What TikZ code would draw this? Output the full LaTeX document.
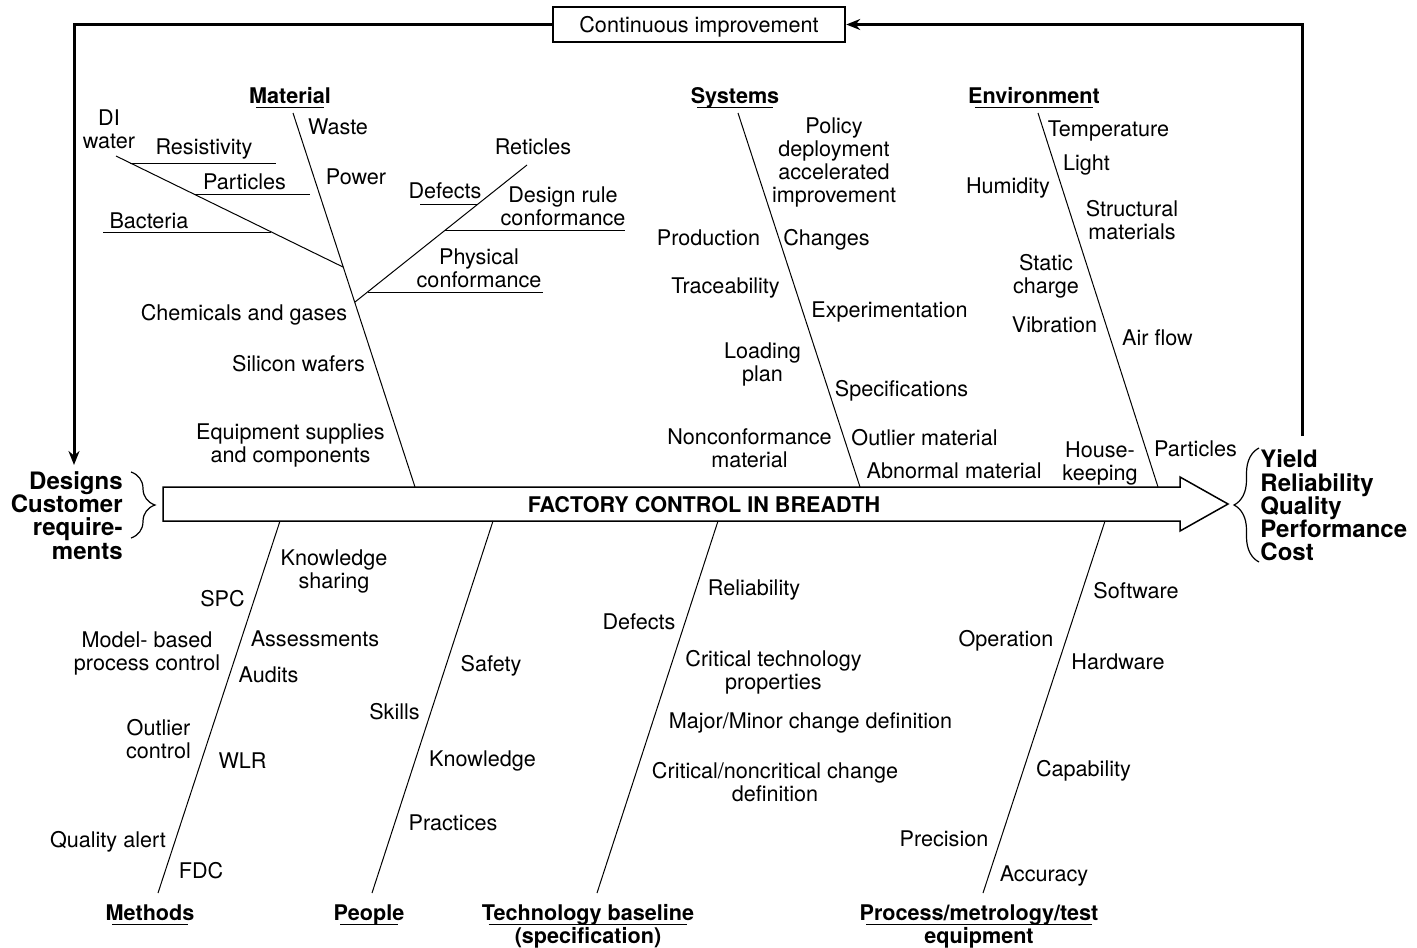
\documentclass[tikz,border=0pt]{standalone}
\usepackage{fontspec}
\setmainfont{TeX Gyre Heros}
\usetikzlibrary{arrows.meta,decorations.pathreplacing}
\begin{document}
\begin{tikzpicture}[x=0.5pt,y=-0.5pt,
  txt/.style={font=\fontsize{10.8}{11.5}\selectfont,inner sep=0pt,text height=7.8pt,text depth=0pt},
  mtxt/.style={font=\fontsize{10.8}{11.5}\selectfont,inner sep=0pt,align=center},
  head/.style={font=\bfseries\fontsize{10.8}{11.5}\selectfont,inner sep=0pt,text height=7.8pt,text depth=0pt},
  big/.style={font=\bfseries\fontsize{12}{11.6}\selectfont,inner sep=0pt},
  bone/.style={line width=0.5pt},
  twig/.style={line width=0.5pt},
  loopline/.style={line width=1.5pt,-{Stealth[length=7pt,width=5.5pt]}},
  uline/.style={line width=0.7pt},
]
\useasboundingbox (0,0) rectangle (1417,947);

% ---------- spine arrow ----------
\draw[line width=0.75pt] (163,487) -- (1180,487) -- (1180,477) -- (1228,504)
  -- (1180,531) -- (1180,521) -- (163,521) -- cycle;
\node[head] (spine) at (704,505) {FACTORY CONTROL IN BREADTH};

% ---------- inputs and outputs ----------
\node[big,align=right,anchor=east] (inp) at (123,515.5) {Designs\\Customer\\require-\\ments};
\node[big,align=left,anchor=west] (outp) at (1260,505.5) {Yield\\Reliability\\Quality\\Performance\\Cost};
\draw[line width=0.6pt,decorate,decoration={brace,amplitude=12pt}] (131,472) -- (131,538);
\draw[line width=0.6pt,decorate,decoration={brace,amplitude=12.5pt}] (1259,562) -- (1259,448);

% ---------- feedback loop ----------
\node[draw,line width=1.2pt,minimum width=146pt,minimum height=17.5pt,txt] (ci) at (699,24.5) {Continuous improvement};
\coordinate (fbin) at (74,465);
\coordinate (fbout) at (1302,436);
\draw[loopline] (ci.west) -| (fbin);
\draw[loopline] (fbout) |- (ci.east);

% ---------- category headings ----------
\node[head] (mat)  at (290,96)  {Material};
\node[head] (sys)  at (735,96)  {Systems};
\node[head] (env)  at (1034,96) {Environment};
\node[head] (meth) at (150,913) {Methods};
\node[head] (ppl)  at (369,913) {People};
\node[head] (tech) at (588,913) {Technology baseline};
\node[head] (tech2) at (588,936) {(specification)};
\node[head] (proc) at (979,913) {Process/metrology/test};
\node[head] (proc2) at (979,936) {equipment};
\foreach \h in {mat,sys,env,meth,ppl,tech,proc}
  \draw[uline] ([xshift=3.5pt,yshift=-1.8pt]\h.base west) -- ([xshift=-3.5pt,yshift=-1.8pt]\h.base east);

% ---------- main bones ----------
\coordinate (matT) at (293,113);  \coordinate (matB) at (415,487);
\coordinate (sysT) at (738,113);  \coordinate (sysB) at (860,487);
\coordinate (envT) at (1038,113); \coordinate (envB) at (1158,487);
\coordinate (methT) at (280,521); \coordinate (methB) at (158,893);
\coordinate (pplT) at (493,521);  \coordinate (pplB) at (372,893);
\coordinate (techT) at (718,521); \coordinate (techB) at (597,893);
\coordinate (procT) at (1105,521);\coordinate (procB) at (983,893);
\foreach \b in {mat,sys,env,meth,ppl,tech,proc}
  \draw[bone] (\b T) -- (\b B);

% ---------- material sub-branches ----------
\coordinate (diA) at (116,156);  \coordinate (diB) at (343,267);
\draw[twig] (diA) -- (diB);
\coordinate (resA) at (130,163); \coordinate (resB) at (276,163);
\coordinate (parA) at (193.5,194); \coordinate (parB) at (310,194);
\coordinate (bacA) at (103,232); \coordinate (bacB) at (271,232);
\draw[twig] (resA) -- (resB);
\draw[twig] (parA) -- (parB);
\draw[twig] (bacA) -- (bacB);
\coordinate (retA) at (355,302); \coordinate (retB) at (527,165);
\draw[twig] (retA) -- (retB);
\coordinate (dfA) at (420,204); \coordinate (dfB) at (478,204);
\coordinate (drA) at (445,230); \coordinate (drB) at (625,230);
\coordinate (phA) at (368,292); \coordinate (phB) at (543,292);
\draw[twig] (dfA) -- (dfB);
\draw[twig] (drA) -- (drB);
\draw[twig] (phA) -- (phB);

% ---------- material labels ----------
\node[mtxt] (di) at (109,129.5) {DI\\water};
\node[txt] (res) at (204,147) {Resistivity};
\node[txt] (par1) at (244.5,182) {Particles};
\node[txt] (bac) at (149,221) {Bacteria};
\node[txt] (waste) at (338,127) {Waste};
\node[txt] (power) at (356,177) {Power};
\node[txt] (ret) at (533,147) {Reticles};
\node[txt] (def1) at (445,191) {Defects};
\node[mtxt] (drc) at (563,206.5) {Design rule\\conformance};
\node[mtxt] (phys) at (479,268.5) {Physical\\conformance};
\node[txt] (chem) at (244,313) {Chemicals and gases};
\node[txt] (si) at (298.5,364) {Silicon wafers};
\node[mtxt] (equip) at (290.5,445) {Equipment supplies\\and components};

% ---------- systems labels ----------
\node[mtxt] (policy) at (834,162) {Policy\\deployment\\accelerated\\improvement};
\node[txt] (prod) at (708.5,238) {Production};
\node[txt] (chg) at (826.5,238) {Changes};
\node[txt] (trace) at (725.5,286) {Traceability};
\node[txt] (exper) at (889.5,310) {Experimentation};
\node[mtxt] (load) at (762.5,364) {Loading\\plan};
\node[txt] (spec) at (901.5,389) {Specifications};
\node[mtxt] (nonc) at (749.5,448.5) {Nonconformance\\material};
\node[txt] (outl) at (924.5,438) {Outlier material};
\node[txt] (abn) at (954,471) {Abnormal material};

% ---------- environment labels ----------
\node[txt] (temp) at (1108.5,129) {Temperature};
\node[txt] (light) at (1086.5,163) {Light};
\node[txt] (hum) at (1008,186) {Humidity};
\node[mtxt] (struct) at (1132,220.5) {Structural\\materials};
\node[mtxt] (stat) at (1046,276) {Static\\charge};
\node[txt] (vib) at (1054.5,325) {Vibration};
\node[txt] (air) at (1157.5,338) {Air flow};
\node[mtxt] (house) at (1100,463) {House-\\keeping};
\node[txt] (par2) at (1195.5,449) {Particles};

% ---------- methods labels ----------
\node[mtxt] (ks) at (334,571) {Knowledge\\sharing};
\node[txt] (spc) at (222.5,599) {SPC};
\node[mtxt] (mbpc) at (147,653) {Model- based\\process control};
\node[txt] (assess) at (315,639) {Assessments};
\node[txt] (audits) at (268.5,675) {Audits};
\node[mtxt] (outc) at (158.5,739.5) {Outlier\\control};
\node[txt] (wlr) at (242.5,761) {WLR};
\node[txt] (qa) at (108,840) {Quality alert};
\node[txt] (fdc) at (201,871) {FDC};

% ---------- people labels ----------
\node[txt] (safety) at (491,664) {Safety};
\node[txt] (skills) at (394.5,712) {Skills};
\node[txt] (know) at (482.5,759) {Knowledge};
\node[txt] (pract) at (453,823) {Practices};

% ---------- technology baseline labels ----------
\node[txt] (rel) at (754,588) {Reliability};
\node[txt] (def2) at (639,622) {Defects};
\node[mtxt] (ctp) at (773.5,672) {Critical technology\\properties};
\node[txt] (mmc) at (810.5,721) {Major/Minor change definition};
\node[mtxt] (cnc) at (775,782.5) {Critical/noncritical change\\definition};

% ---------- equipment labels ----------
\node[txt] (soft) at (1136,591) {Software};
\node[txt] (oper) at (1006,639) {Operation};
\node[txt] (hard) at (1118,662) {Hardware};
\node[txt] (capab) at (1083.5,769) {Capability};
\node[txt] (prec) at (944,839) {Precision};
\node[txt] (acc) at (1044,874) {Accuracy};
\end{tikzpicture}
\end{document}
